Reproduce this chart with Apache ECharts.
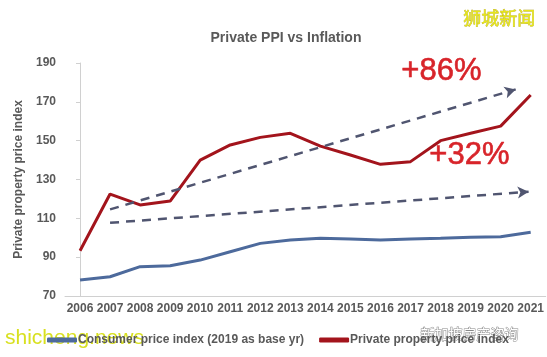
<!DOCTYPE html>
<html><head><meta charset="utf-8">
<script src="https://cdn.jsdelivr.net/npm/echarts@6/dist/echarts.min.js"></script>
<style>html,body{margin:0;padding:0;background:#fff}#c{width:547px;height:357px}</style>
</head><body><div id="c"></div>
<script>
const years = ['2006','2007','2008','2009','2010','2011','2012','2013','2014','2015','2016','2017','2018','2019','2020','2021'];
const cpi = [78.2, 79.9, 85.1, 85.6, 88.5, 92.8, 97.1, 98.8, 99.7, 99.4, 98.8, 99.4, 99.7, 100.2, 100.5, 102.8];
const ppi = [93.3, 122.5, 116.9, 118.9, 140.0, 147.8, 151.7, 153.8, 147.2, 142.6, 137.8, 139.2, 150.0, 153.8, 157.5, 173.5];
const arrowUpper = [[1.0, 114.6], [14.5, 176.4]];
const arrowLower = [[1.0, 107.7], [14.93, 123.7]];

const chart = echarts.init(document.getElementById('c'));
const gray = '#595959';
const font = 'Liberation Sans, Arial, sans-serif';
chart.setOption({
  animation: false,
  title: {text: 'Private PPI vs Inflation', left: 281, top: 26, textAlign: 'center',
    textStyle: {fontSize: 14, fontWeight: 'bold', color: gray, fontFamily: font}},
  legend: {left: 42, top: 329, itemWidth: 30, itemHeight: 5, itemGap: 15, icon: 'roundRect',
    textStyle: {fontSize: 12, fontWeight: 'bold', color: gray, fontFamily: font, padding: [0,0,0,-4]},
    data: ['Consumer price index (2019 as base yr)', 'Private property price index']},
  grid: {left: 65, right: 0, top: 63, bottom: 61},
  xAxis: [{type: 'category', data: years, boundaryGap: true,
    axisLine: {lineStyle: {color: '#d0d0d0'}}, axisTick: {length: 4, lineStyle: {color: '#d0d0d0'}},
    axisLabel: {fontSize: 12, fontWeight: 'bold', color: gray, fontFamily: font, margin: 7, interval: 0}},
   {type: 'value', min: -0.5, max: 15.5, show: false}],
  yAxis: {type: 'value', min: 70, max: 190, interval: 20, name: 'Private property price index',
    nameLocation: 'middle', nameGap: 31, nameRotate: 90,
    nameTextStyle: {fontSize: 12, fontWeight: 'bold', color: gray, fontFamily: font},
    splitLine: {show: false},
    axisLine: {show: true, lineStyle: {color: '#d0d0d0'}}, axisTick: {show: true, length: 4, lineStyle: {color: '#d0d0d0'}},
    axisLabel: {fontSize: 12, fontWeight: 'bold', color: gray, fontFamily: font, margin: 9}},
  series: [
    {name: 'Consumer price index (2019 as base yr)', type: 'line', data: cpi, symbol: 'none',
      lineStyle: {color: '#4d6a9c', width: 3}, itemStyle: {color: '#4d6a9c'}},
    {name: 'Private property price index', type: 'line', data: ppi, symbol: 'none',
      lineStyle: {color: '#a3141c', width: 3}, itemStyle: {color: '#a3141c'}},
    {type: 'line', xAxisIndex: 1, data: [], silent: true,
      markLine: {silent: true, symbol: ['none', 'arrow'], symbolSize: [9, 11], label: {show: false},
        lineStyle: {type: [9, 7], color: '#505570', width: 2.5},
        data: [
          [{coord: arrowUpper[0]}, {coord: arrowUpper[1]}],
          [{coord: arrowLower[0]}, {coord: arrowLower[1]}]
        ]}}
  ],
  graphic: [
    {type: 'text', left: 401, top: 56, style: {text: '+86%', fontSize: 31, fill: '#d8242a', fontFamily: font, stroke: '#d8242a', lineWidth: 0.6}},
    {type: 'text', left: 429, top: 140, style: {text: '+32%', fontSize: 31, fill: '#d8242a', fontFamily: font, stroke: '#d8242a', lineWidth: 0.6}},
    {type: 'text', left: 463, top: 9, style: {text: '狮城新闻', fontSize: 18, fill: '#e6e61a', fontFamily: 'Noto Sans CJK SC', stroke: '#b0a020', lineWidth: 0.5}},
    {type: 'text', left: 5, top: 328, style: {text: 'shicheng.news', fontSize: 21, fill: '#d8e020', fontFamily: font}},
    {type: 'text', left: 420, top: 326, style: {text: '新加坡房产咨询', fontSize: 14, fill: '#ffffff', stroke: '#888888', lineWidth: 1, fontFamily: 'Noto Sans CJK SC'}}
  ]
});
</script></body></html>
